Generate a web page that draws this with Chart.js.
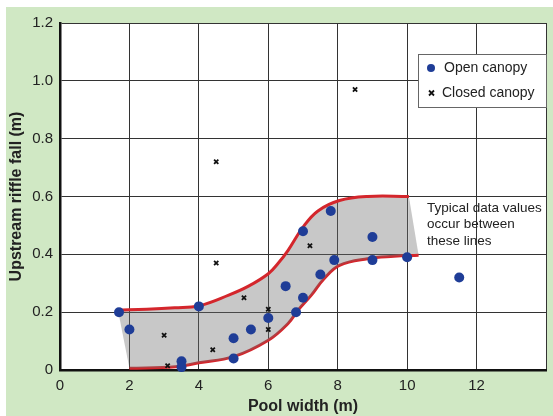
<!DOCTYPE html>
<html>
<head>
<meta charset="utf-8">
<script src="https://cdn.jsdelivr.net/npm/chart.js@4.4.1/dist/chart.umd.min.js"></script>
<style>
  html, body { margin: 0; padding: 0; background: #fff; }
</style>
</head>
<body>
<canvas id="chart" width="553" height="416"></canvas>
<script>
// Open canopy points
const openX = [1.7, 2.0, 3.5, 3.5, 4.0, 5.0, 5.0, 5.5, 6.0, 6.5, 6.8, 7.0, 7.0, 7.5, 7.8, 7.9, 9.0, 9.0, 10.0, 11.5];
const openY = [0.20, 0.14, 0.03, 0.01, 0.22, 0.11, 0.04, 0.14, 0.18, 0.29, 0.20, 0.25, 0.48, 0.33, 0.55, 0.38, 0.46, 0.38, 0.39, 0.32];

// Closed canopy points
const closedX = [3.0, 3.1, 4.4, 4.5, 4.5, 5.3, 6.0, 6.0, 7.2, 8.5];
const closedY = [0.12, 0.015, 0.07, 0.37, 0.72, 0.25, 0.21, 0.14, 0.43, 0.97];

// Envelope curves
const upperX = [1.67, 2.5, 3.3, 4.0, 4.86, 5.43, 6.0, 6.29, 6.57, 7.0, 7.43, 8.05, 8.86, 10.05];
const upperY = [0.207, 0.21, 0.215, 0.222, 0.259, 0.29, 0.333, 0.37, 0.414, 0.494, 0.55, 0.586, 0.600, 0.600];
const lowerX = [2.0, 3.33, 4.0, 5.0, 6.0, 6.57, 6.86, 7.24, 7.6, 8.05, 8.86, 9.62, 10.33];
const lowerY = [0.006, 0.011, 0.025, 0.046, 0.103, 0.161, 0.207, 0.259, 0.315, 0.362, 0.385, 0.393, 0.397];

// Grey wedges at the two ends of the band
const leftEdgeX = [1.67, 2.0, 2.0];
const leftEdgeY = [0.207, 0.006, 0.209];
const rightEdgeX = [10.05, 10.33, 10.05];
const rightEdgeY = [0.600, 0.397, 0.395];

const xTicks = [0, 2, 4, 6, 8, 10, 12];
const noteLines = ['Typical data values', 'occur between', 'these lines'];

const toPoints = (xs, ys) => xs.map((x, i) => ({ x: x, y: ys[i] }));

const FONT = "'Liberation Sans', Arial, Helvetica, sans-serif";
const BLUE = '#1f3d97';
const RED = '#d4262c';
const GREY = 'rgba(110, 110, 110, 0.38)';

Chart.defaults.font.family = FONT;
Chart.defaults.color = '#222';

const backdrop = {
    id: 'backdrop',
    beforeDraw(chart) {
        const ctx = chart.ctx;
        const a = chart.chartArea;
        ctx.save();
        ctx.fillStyle = '#fff';
        ctx.fillRect(0, 0, chart.width, chart.height);
        ctx.fillStyle = '#d0e8c4';
        ctx.fillRect(6, 7, chart.width - 6, chart.height - 7);
        ctx.fillStyle = '#fff';
        ctx.fillRect(a.left, a.top, a.right - a.left, a.bottom - a.top);
        ctx.restore();
    },
    afterDraw(chart) {
        const ctx = chart.ctx;
        ctx.save();
        // legend box
        ctx.fillStyle = '#fff';
        ctx.fillRect(418.5, 54.5, 128, 53);
        ctx.strokeStyle = '#666';
        ctx.lineWidth = 1;
        ctx.strokeRect(418.5, 54.5, 128, 53);
        ctx.fillStyle = BLUE;
        ctx.beginPath();
        ctx.arc(431, 68, 4, 0, Math.PI * 2);
        ctx.fill();
        ctx.strokeStyle = '#111';
        ctx.lineWidth = 1.8;
        ctx.beginPath();
        ctx.moveTo(429, 90.5); ctx.lineTo(434, 95.5);
        ctx.moveTo(434, 90.5); ctx.lineTo(429, 95.5);
        ctx.stroke();
        ctx.fillStyle = '#222';
        ctx.font = '14px ' + FONT;
        ctx.textBaseline = 'middle';
        ctx.fillText('Open canopy', 444, 68);
        ctx.fillText('Closed canopy', 442, 93);

        // note next to the band
        ctx.font = '13.5px ' + FONT;
        noteLines.forEach((t, i) => ctx.fillText(t, 427, 208 + i * 16.5));
        ctx.restore();
    }
};

function wedge(label, xs, ys) {
    return {
        label: label,
        data: toPoints(xs, ys),
        showLine: true,
        tension: 0,
        pointRadius: 0,
        borderWidth: 0,
        borderColor: 'rgba(0,0,0,0)',
        backgroundColor: GREY,
        fill: 'shape',
        order: 4
    };
}

new Chart(document.getElementById('chart'), {
    type: 'scatter',
    data: {
        datasets: [
            {
                label: 'Open canopy',
                data: toPoints(openX, openY),
                pointStyle: 'circle',
                pointRadius: 5,
                pointBorderWidth: 0,
                backgroundColor: BLUE,
                borderColor: BLUE,
                clip: false,
                order: 0
            },
            {
                label: 'Closed canopy',
                data: toPoints(closedX, closedY),
                pointStyle: 'crossRot',
                pointRadius: 3,
                pointBorderWidth: 1.8,
                borderColor: '#111',
                backgroundColor: '#111',
                clip: false,
                order: 1
            },
            {
                label: 'upper',
                data: toPoints(upperX, upperY),
                showLine: true,
                tension: 0.4,
                pointRadius: 0,
                borderColor: RED,
                borderWidth: 3,
                backgroundColor: GREY,
                fill: '+1',
                order: 2
            },
            {
                label: 'lower',
                data: toPoints(lowerX, lowerY),
                showLine: true,
                tension: 0.4,
                pointRadius: 0,
                borderColor: RED,
                borderWidth: 3,
                fill: false,
                order: 3
            },
            wedge('left edge', leftEdgeX, leftEdgeY),
            wedge('right edge', rightEdgeX, rightEdgeY)
        ]
    },
    options: {
        responsive: false,
        animation: false,
        events: [],
        layout: { padding: { top: 23, right: 3, left: 0, bottom: 0 } },
        plugins: {
            legend: { display: false },
            tooltip: { enabled: false }
        },
        scales: {
            x: {
                type: 'linear',
                min: 0,
                max: 14,
                afterFit: s => { s.height = 46; },
                afterBuildTicks: s => { s.ticks = xTicks.concat([14]).map(v => ({ value: v })); },
                ticks: {
                    padding: 7,
                    font: { size: 15 },
                    color: '#222',
                    callback: v => (xTicks.includes(v) ? String(v) : '')
                },
                grid: { color: '#333', lineWidth: 1, drawTicks: false },
                border: { color: '#111', width: 2.5 },
                title: {
                    display: true,
                    text: 'Pool width (m)',
                    font: { size: 16, weight: 'bold' },
                    color: '#222',
                    padding: { top: 0, bottom: 0 }
                }
            },
            y: {
                type: 'linear',
                min: 0,
                max: 1.2,
                afterFit: s => { s.width = 60; },
                ticks: {
                    stepSize: 0.2,
                    padding: 7,
                    font: { size: 15 },
                    color: '#222',
                    callback: v => (v === 0 ? '0' : v.toFixed(1))
                },
                grid: { color: '#333', lineWidth: 1, drawTicks: false },
                border: { color: '#111', width: 2.5 },
                title: {
                    display: true,
                    text: 'Upstream riffle fall (m)',
                    font: { size: 16, weight: 'bold' },
                    color: '#222',
                    padding: { top: 7, bottom: 0 }
                }
            }
        }
    },
    plugins: [backdrop]
});
</script>
</body>
</html>
